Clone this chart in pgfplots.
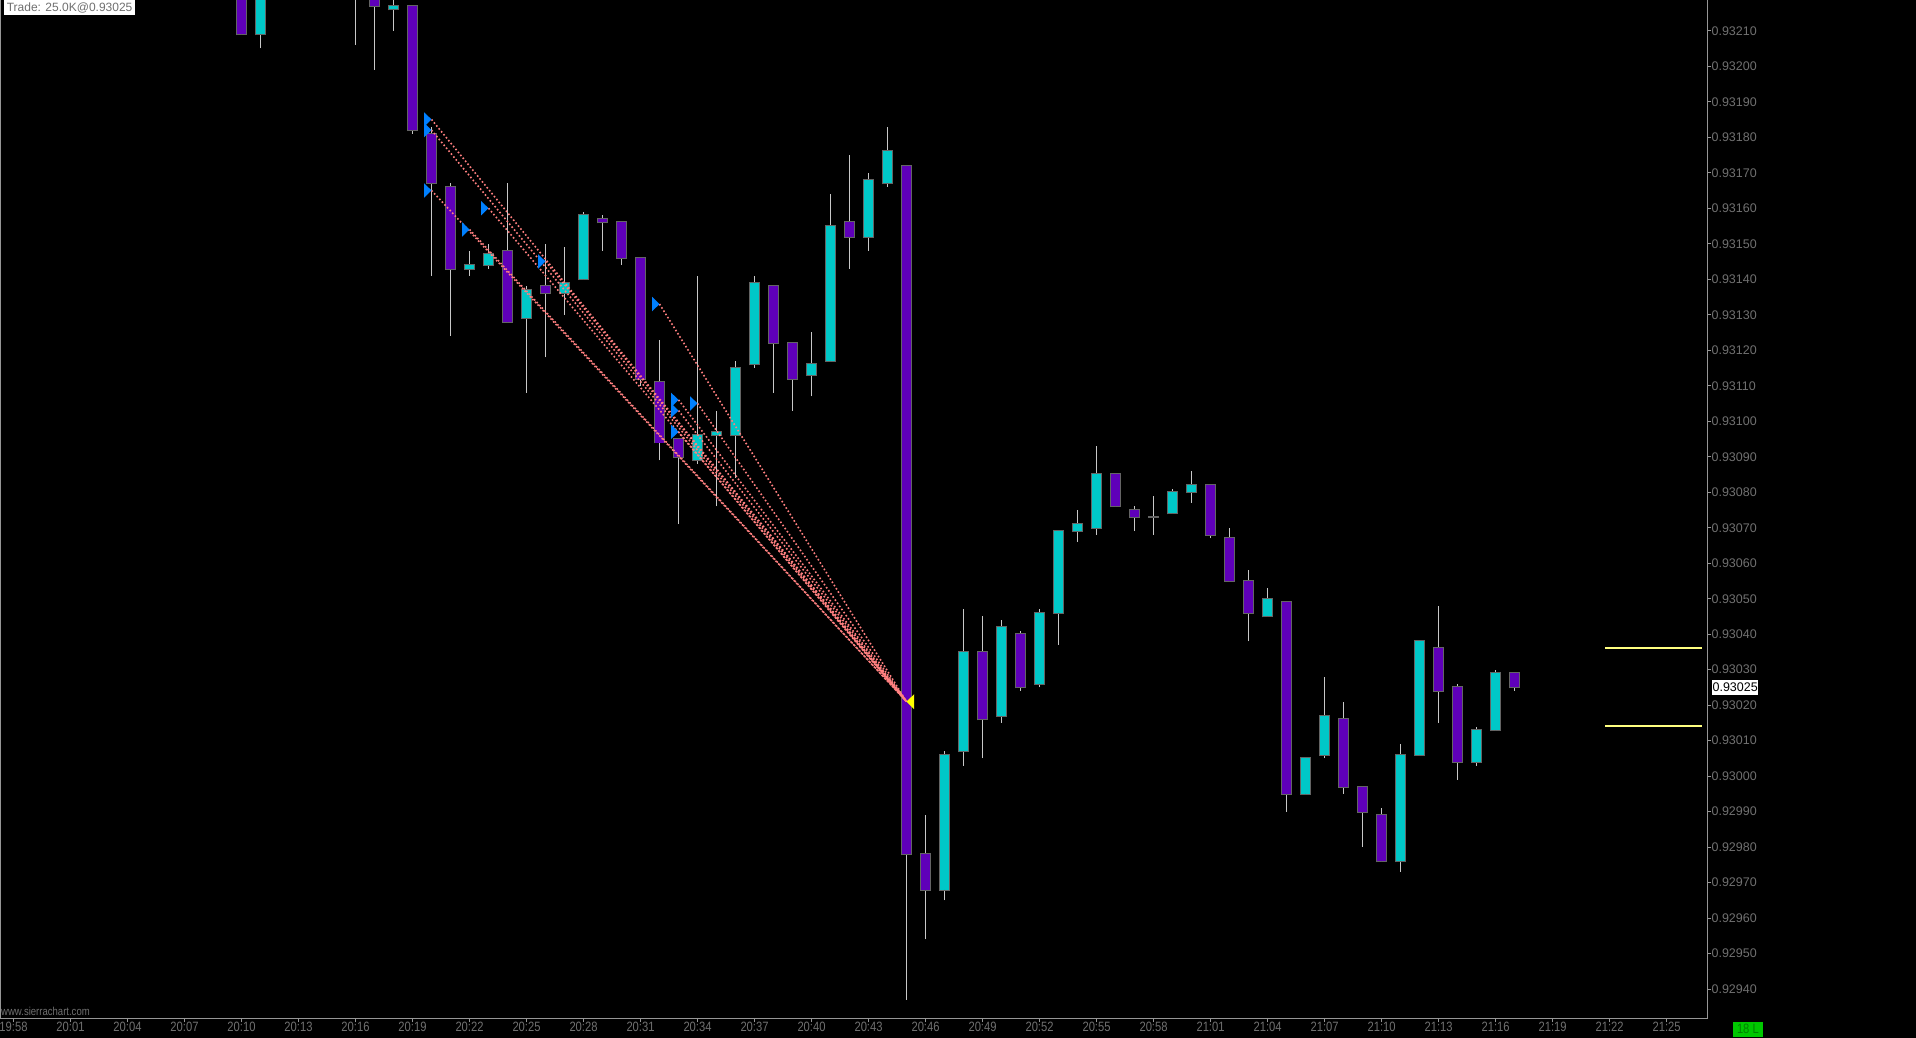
\documentclass[border=0pt]{standalone}
\usepackage{fontspec}
\setmainfont{Liberation Sans}
\usepackage{graphicx}
\usepackage{pgfplots}
\usepackage{pgfplotstable}
\pgfplotsset{compat=1.18}

\definecolor{dncol}{RGB}{95,0,185}
\definecolor{upcol}{RGB}{0,200,200}
\definecolor{edge}{RGB}{100,100,100}
\definecolor{wick}{RGB}{200,200,200}
\definecolor{spine}{RGB}{150,150,150}
\definecolor{lbl}{RGB}{112,112,112}
\definecolor{tri}{RGB}{0,128,255}
\definecolor{salmon}{RGB}{255,128,128}
\definecolor{ylw}{RGB}{255,255,0}
\definecolor{ylwline}{RGB}{255,255,128}
\definecolor{boxgreen}{RGB}{0,200,0}
\definecolor{txtgreen}{RGB}{0,130,0}

\newcommand\yfont{\fontsize{12.5bp}{13bp}\selectfont}
\newcommand\xfont{\fontsize{13.5bp}{14bp}\selectfont}
\newcommand\xl[1]{\scalebox{0.83}[1]{#1}}

% entry / exit arrows
\pgfdeclareplotmark{entry}{%
  \pgfpathmoveto{\pgfpoint{0bp}{0bp}}%
  \pgfpathlineto{\pgfpoint{-7.4bp}{7.2bp}}%
  \pgfpathlineto{\pgfpoint{-7.4bp}{-7.2bp}}%
  \pgfpathclose\pgfusepathqfill}
\pgfdeclareplotmark{exit}{%
  \pgfpathmoveto{\pgfpoint{0bp}{0bp}}%
  \pgfpathlineto{\pgfpoint{7.5bp}{7.4bp}}%
  \pgfpathlineto{\pgfpoint{7.5bp}{-7.4bp}}%
  \pgfpathclose\pgfusepathqfill}

% minutes after 19:58, open high low close
\pgfplotstableread{
t o h l c
12 0.93230 0.93235 0.93209 0.93209
19 0.93226 0.93230 0.93199 0.93217
21 0.93217 0.93217 0.93181 0.93182
22 0.93181 0.93183 0.93141 0.93167
23 0.93166 0.93167 0.93124 0.93143
26 0.93148 0.93167 0.93128 0.93128
28 0.93138 0.93150 0.93118 0.93136
31 0.93157 0.93158 0.93148 0.93156
32 0.93156 0.93156 0.93144 0.93146
33 0.93146 0.93146 0.93110 0.93112
34 0.93111 0.93123 0.93089 0.93094
35 0.93095 0.93095 0.93071 0.93090
40 0.93138 0.93138 0.93108 0.93122
41 0.93122 0.93122 0.93103 0.93112
44 0.93156 0.93175 0.93143 0.93152
47 0.93172 0.93172 0.92937 0.92978
48 0.92978 0.92989 0.92954 0.92968
51 0.93035 0.93045 0.93005 0.93016
53 0.93040 0.93041 0.93024 0.93025
58 0.93085 0.93085 0.93076 0.93076
59 0.93075 0.93076 0.93069 0.93073
63 0.93082 0.93082 0.93067 0.93068
64 0.93067 0.93070 0.93055 0.93055
65 0.93055 0.93058 0.93038 0.93046
67 0.93049 0.93049 0.92990 0.92995
70 0.93016 0.93021 0.92995 0.92997
71 0.92997 0.92997 0.92980 0.92990
72 0.92989 0.92991 0.92976 0.92976
75 0.93036 0.93048 0.93015 0.93024
76 0.93025 0.93026 0.92999 0.93004
79 0.93029 0.93029 0.93024 0.93025
}\dn

\pgfplotstableread{
t o h l c
13 0.93209 0.93235 0.93205 0.93230
18 0.93225 0.93235 0.93206 0.93232
20 0.93216 0.93222 0.93210 0.93217
24 0.93143 0.93148 0.93141 0.93144
25 0.93144 0.93150 0.93143 0.93147
27 0.93129 0.93138 0.93108 0.93137
29 0.93136 0.93149 0.93130 0.93139
30 0.93140 0.93159 0.93140 0.93158
36 0.93089 0.93141 0.93088 0.93096
37 0.93096 0.93103 0.93076 0.93097
38 0.93096 0.93117 0.93084 0.93115
39 0.93116 0.93141 0.93115 0.93139
42 0.93113 0.93125 0.93107 0.93116
43 0.93117 0.93164 0.93117 0.93155
45 0.93152 0.93170 0.93148 0.93168
46 0.93167 0.93183 0.93166 0.93176
49 0.92968 0.93007 0.92965 0.93006
50 0.93007 0.93047 0.93003 0.93035
52 0.93017 0.93044 0.93015 0.93042
54 0.93026 0.93047 0.93025 0.93046
55 0.93046 0.93069 0.93037 0.93069
56 0.93069 0.93075 0.93066 0.93071
57 0.93070 0.93093 0.93068 0.93085
60 0.93073 0.93079 0.93068 0.93073
61 0.93074 0.93081 0.93074 0.93080
62 0.93080 0.93086 0.93077 0.93082
66 0.93045 0.93053 0.93045 0.93050
68 0.92995 0.93005 0.92995 0.93005
69 0.93006 0.93028 0.93005 0.93017
73 0.92976 0.93009 0.92973 0.93006
74 0.93006 0.93038 0.93006 0.93038
77 0.93004 0.93014 0.93003 0.93013
78 0.93013 0.93030 0.93013 0.93029
}\up

\pgfplotstableread{
t p
22 0.93185
22 0.93182
22 0.93165
24 0.93154
25 0.93160
28 0.93145
34 0.93133
35 0.93106
35 0.93103
35 0.93097
36 0.93105
}\entries

\pgfplotsset{
  nomark/.style={only marks, mark=none, mark size=0pt, mark options={draw=none, fill=none}},
  wicks/.style={nomark,
    error bars/.cd, y dir=plus, y explicit, error mark=none,
    error bar style={line width=1bp, draw=wick}},
  bodies/.style 2 args={nomark,
    error bars/.cd, y dir=plus, y explicit, error mark=none,
    error bar style={line width=#1, draw=#2}},
  conn/.style={salmon, mark=none, line width=1.6bp, dash pattern=on 1.6bp off 2.2bp},
}

\begin{document}
\begin{tikzpicture}
\fill[black] (0,0) rectangle (1916bp,1038bp);

\begin{axis}[
  at={(0bp,19.7bp)}, anchor=south west,
  scale only axis, width=1707.3bp, height=1018.3bp,
  xmin=-0.7105, xmax=89.147,
  ymin=0.929318, ymax=0.9321865,
  axis line style={draw=none},
  tick align=outside, major tick length=4bp,
  tick style={draw=spine, line width=1bp},
  xtick pos=bottom, ytick pos=right, yticklabel pos=right,
  xtick={0,3,...,87},
  xticklabels={\xl{19:58},\xl{20:01},\xl{20:04},\xl{20:07},\xl{20:10},\xl{20:13},
    \xl{20:16},\xl{20:19},\xl{20:22},\xl{20:25},\xl{20:28},\xl{20:31},\xl{20:34},
    \xl{20:37},\xl{20:40},\xl{20:43},\xl{20:46},\xl{20:49},\xl{20:52},\xl{20:55},
    \xl{20:58},\xl{21:01},\xl{21:04},\xl{21:07},\xl{21:10},\xl{21:13},\xl{21:16},
    \xl{21:19},\xl{21:22},\xl{21:25}},
  ytick={0.9294,0.9295,0.9296,0.9297,0.9298,0.9299,0.9300,0.9301,0.9302,0.9303,
    0.9304,0.9305,0.9306,0.9307,0.9308,0.9309,0.9310,0.9311,0.9312,0.9313,
    0.9314,0.9315,0.9316,0.9317,0.9318,0.9319,0.9320,0.9321},
  yticklabels={0.92940,0.92950,0.92960,0.92970,0.92980,0.92990,0.93000,0.93010,
    0.93020,0.93030,0.93040,0.93050,0.93060,0.93070,0.93080,0.93090,0.93100,
    0.93110,0.93120,0.93130,0.93140,0.93150,0.93160,0.93170,0.93180,0.93190,
    0.93200,0.93210},
  xticklabel style={font=\xfont, text=lbl, anchor=north, inner sep=0pt},
  yticklabel style={font=\yfont, text=lbl, anchor=west, inner sep=0pt},
]
% wicks
\addplot[wicks] table[x=t, y=l, y error plus expr={\thisrow{h}-\thisrow{l}}] {\dn};
\addplot[wicks] table[x=t, y=l, y error plus expr={\thisrow{h}-\thisrow{l}}] {\up};
% bodies: grey edge, then fill
\addplot[bodies={10.4bp}{edge}] table[x=t,
  y expr={min(\thisrow{o},\thisrow{c})-0.0000028},
  y error plus expr={abs(\thisrow{c}-\thisrow{o})+0.0000056}] {\dn};
\addplot[bodies={10.4bp}{edge}] table[x=t,
  y expr={min(\thisrow{o},\thisrow{c})-0.0000028},
  y error plus expr={abs(\thisrow{c}-\thisrow{o})+0.0000056}] {\up};
\addplot[bodies={8.4bp}{dncol}] table[x=t,
  y expr={min(\thisrow{o},\thisrow{c})},
  y error plus expr={abs(\thisrow{c}-\thisrow{o})}] {\dn};
\addplot[bodies={8.4bp}{upcol}] table[x=t,
  y expr={min(\thisrow{o},\thisrow{c})},
  y error plus expr={abs(\thisrow{c}-\thisrow{o})}] {\up};

% target lines
\addplot[ylwline, line width=2bp] coordinates {(83.76,0.93036) (88.87,0.93036)};
\addplot[ylwline, line width=2bp] coordinates {(83.76,0.93014) (88.87,0.93014)};

% trade connectors, all ending at the exit
\addplot[conn] coordinates {(22,0.93185) (47,0.93021)};
\addplot[conn] coordinates {(22,0.93182) (47,0.93021)};
\addplot[conn] coordinates {(22,0.93165) (47,0.93021)};
\addplot[conn] coordinates {(24,0.93154) (47,0.93021)};
\addplot[conn] coordinates {(25,0.93160) (47,0.93021)};
\addplot[conn] coordinates {(28,0.93145) (47,0.93021)};
\addplot[conn] coordinates {(34,0.93133) (47,0.93021)};
\addplot[conn] coordinates {(35,0.93106) (47,0.93021)};
\addplot[conn] coordinates {(35,0.93103) (47,0.93021)};
\addplot[conn] coordinates {(35,0.93097) (47,0.93021)};
\addplot[conn] coordinates {(36,0.93105) (47,0.93021)};

\addplot[tri, only marks, mark=entry] table[x=t, y=p] {\entries};
\addplot[ylw, only marks, mark=exit] coordinates {(47,0.93021)};
\end{axis}

% frame
\draw[spine, line width=1bp] (0.7bp,1038bp) -- (0.7bp,19.2bp) -- (1707.3bp,19.2bp) -- (1707.3bp,1038bp);

% labels
\node[fill=white, text=lbl, anchor=north west, font=\fontsize{12bp}{13bp}\selectfont,
  inner xsep=2.6bp, inner ysep=0pt, minimum height=14.7bp] at (4bp,1038bp) {Trade: 25.0K@0.93025};
\node[fill=white, text=black, anchor=west, font=\yfont, inner xsep=0.4bp, inner ysep=2.6bp]
  at (1712bp,350.5bp) {0.93025};
\node[fill=boxgreen, text=txtgreen, font=\xfont, minimum width=29.7bp, minimum height=14.7bp,
  inner sep=0pt] at (1747.9bp,8.65bp) {\xl{18 L}};
\node[text=lbl, anchor=base west, font=\fontsize{11.5bp}{12bp}\selectfont, inner sep=0pt]
  at (1bp,23bp) {\xl{www.sierrachart.com}};

\pgfresetboundingbox
\path[use as bounding box] (0,0) rectangle (1916bp,1038bp);
\end{tikzpicture}
\end{document}
